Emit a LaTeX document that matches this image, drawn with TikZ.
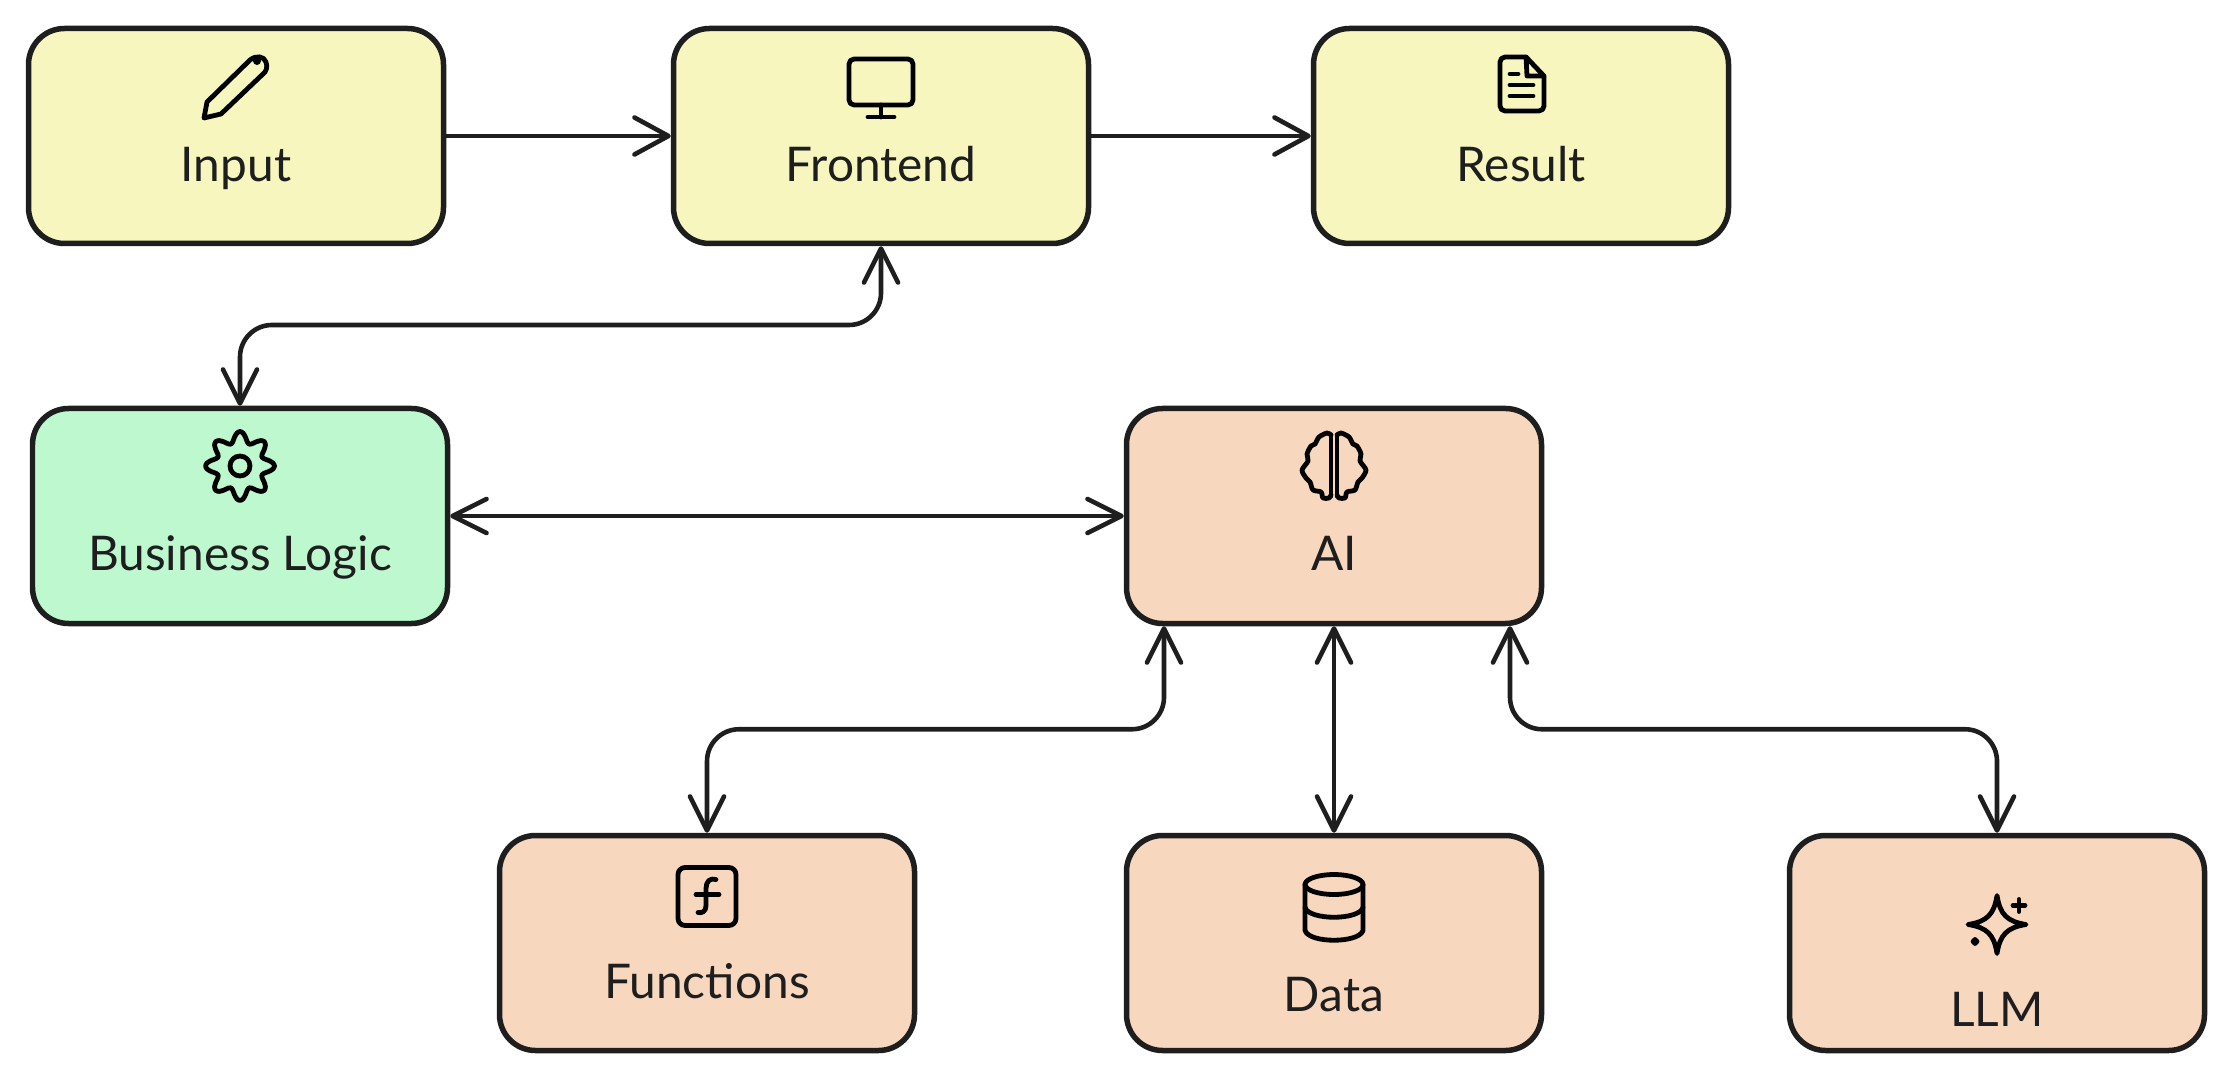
\documentclass[tikz,border=0pt]{standalone}
\usepackage{fontspec}
\setmainfont{Lato}
\usetikzlibrary{arrows.meta}
\usetikzlibrary{positioning}
\usetikzlibrary{calc}

\definecolor{LineInk}{HTML}{1E1E1E}
\definecolor{YellowFill}{HTML}{F6F6BE}
\definecolor{GreenFill}{HTML}{BEF8CF}
\definecolor{OrangeFill}{HTML}{F8D7BF}

\tikzset{
	box/.style = {draw=LineInk, line width=0.055cm, rounded corners=0.36cm, minimum width=4.15cm, minimum height=2.15cm},
	boxlabel/.style = {text=LineInk, anchor=base, inner sep=0pt, font=\fontsize{13.6pt}{16pt}\selectfont},
	link/.style = {draw=LineInk, line width=0.046cm, line cap=round},
	bothways/.style = {link, {Straight Barb[length=0.34cm,width=0.34cm,round]}-{Straight Barb[length=0.34cm,width=0.34cm,round]}},
	oneway/.style = {link, -{Straight Barb[length=0.34cm,width=0.37cm,round]}},
	routed/.style = {bothways, rounded corners=0.32cm},
	icon/.style = {scale=0.01, line width=0.048cm, line cap=round, line join=round},
	pics/pencilicon/.style = {code = {
		\draw[icon] (-32,-30) -- (-29,-14) -- (14,28) .. controls (20,33) and (28,32) .. (30,26) .. controls (32,21) and (30,16) .. (27,14) -- (-15,-26) -- cycle;
		\fill[icon] (21,27) circle (4);
	}},
	pics/monitoricon/.style = {code = {
		\draw[icon, rounded corners=0.05cm] (-32,-17) rectangle (32,29);
		\draw[icon] (0,-17) -- (0,-29);
		\draw[icon] (-13,-29) -- (13,-29);
	}},
	pics/documenticon/.style = {code = {
		\draw[icon, rounded corners=0.05cm] (4,27) -- (-22,27) -- (-22,-27) -- (22,-27) -- (22,8);
		\draw[icon] (4,27) -- (22,8) -- (5,8) -- cycle;
		\draw[icon] (-12,10) -- (-4,10);
		\draw[icon] (-12,-1) -- (11,-1);
		\draw[icon] (-12,-12) -- (11,-12);
	}},
	pics/gearicon/.style = {code = {
		\draw[icon] plot[smooth cycle, samples=64, domain=0:354.375] (\x:{29+5.5*cos(8*\x)});
		\draw[icon] (0,0) circle (10);
	}},
	pics/brainlobe/.style = {code = {
		\draw[icon] (3,-30) -- (3,31);
		\draw[icon] plot[smooth] coordinates {(3,31) (7,33) (15,29) (19,22) (23,20) (27,12) (26,5) (32,-4) (28,-12) (24,-16) (21,-24) (13,-26) (11,-32) (5,-32) (3,-29)};
	}},
	pics/brainicon/.style = {code = {
		\pic {brainlobe};
		\pic[xscale=-1] {brainlobe};
	}},
	pics/functionicon/.style = {code = {
		\draw[icon, rounded corners=0.07cm] (-29,-29) rectangle (29,29);
		\draw[icon] (9,17) .. controls (3,19) and (-1,15) .. (-1,8) -- (-1,-9) .. controls (-1,-15) and (-5,-17) .. (-9,-16);
		\draw[icon] (-11,2) -- (12,2);
	}},
	pics/cylindericon/.style = {code = {
		\draw[icon] (0,23) ellipse (29 and 10);
		\draw[icon] (-29,23) -- (-29,-23) .. controls (-25,-36) and (25,-36) .. (29,-23) -- (29,23);
		\draw[icon] (-29,0) .. controls (-25,-13) and (25,-13) .. (29,0);
	}},
	pics/sparkleicon/.style = {code = {
		\draw[icon] (0,29) .. controls (3,10) and (10,3) .. (29,0) .. controls (10,-3) and (3,-10) .. (0,-29) .. controls (-3,-10) and (-10,-3) .. (-29,0) .. controls (-10,3) and (-3,10) .. (0,29) -- cycle;
		\draw[icon] (16,19) -- (28,19);
		\draw[icon] (22,13) -- (22,25);
		\draw[icon, fill=black] (-24,-17) -- (-22,-15) -- (-20,-17) -- (-22,-19) -- cycle;
	}},
}

\begin{document}
\begin{tikzpicture}
	\useasboundingbox (0.00cm,0.00cm) rectangle (22.35cm,10.82cm);

	% ---------------------
	% Boxes
	\node[box, fill=YellowFill] (Input)    at (2.36cm,9.46cm) {};
	\node[box, fill=YellowFill] (Frontend) at (8.81cm,9.46cm) {};
	\node[box, fill=YellowFill] (Result)   at (15.21cm,9.46cm) {};

	\node[box, fill=GreenFill]  (Business) at (2.40cm,5.66cm) {};
	\node[box, fill=OrangeFill] (AI)       at (13.34cm,5.66cm) {};

	\node[box, fill=OrangeFill] (Functions) at (7.07cm,1.39cm) {};
	\node[box, fill=OrangeFill] (Data)      at (13.34cm,1.39cm) {};
	\node[box, fill=OrangeFill] (LLM)       at (19.97cm,1.39cm) {};

	% ---------------------
	% Labels
	\node[boxlabel] (InputLabel)     at ([yshift=-0.46cm]Input.center) {Input};
	\node[boxlabel] (FrontendLabel)  at ([yshift=-0.46cm]Frontend.center) {Frontend};
	\node[boxlabel] (ResultLabel)    at ([yshift=-0.46cm]Result.center) {Result};
	\node[boxlabel] (BusinessLabel)  at ([yshift=-0.54cm]Business.center) {Business Logic};
	\node[boxlabel] (AILabel)        at ([yshift=-0.54cm]AI.center) {AI};
	\node[boxlabel] (FunctionsLabel) at ([yshift=-0.555cm]Functions.center) {Functions};
	\node[boxlabel] (DataLabel)      at ([yshift=-0.685cm]Data.center) {Data};
	\node[boxlabel] (LLMLabel)       at ([yshift=-0.835cm]LLM.center) {LLM};

	% ---------------------
	% Icons
	\path (Input)     +(0.00cm,0.48cm)  pic {pencilicon};
	\path (Frontend)  +(0.00cm,0.48cm)  pic {monitoricon};
	\path (Result)    +(0.01cm,0.52cm)  pic {documenticon};
	\path (Business)  +(0.00cm,0.50cm)  pic {gearicon};
	\path (AI)        +(0.00cm,0.50cm)  pic {brainicon};
	\path (Functions) +(0.00cm,0.465cm) pic {functionicon};
	\path (Data)      +(0.00cm,0.355cm) pic {cylindericon};
	\path (LLM)       +(0.00cm,0.185cm) pic {sparkleicon};

	% ---------------------
	% Routing points
	\coordinate (FrontendBend) at (5.00cm,7.57cm);
	\path (AI.south) +(-1.70cm,0.00cm) coordinate (AILeft);
	\path (AI.south) +(1.76cm,0.00cm)  coordinate (AIRight);
	\path (AILeft)  +(0.00cm,-1.03cm) coordinate (AILeftBend);
	\path (AIRight) +(0.00cm,-1.03cm) coordinate (AIRightBend);

	% ---------------------
	% Connectors
	\draw[oneway] (Input) -- (Frontend);
	\draw[oneway] (Frontend) -- (Result);
	\draw[routed] (Frontend.south) |- (FrontendBend) -| (Business.north);
	\draw[bothways] (Business) -- (AI);
	\draw[routed] (AILeft) -- (AILeftBend) -| (Functions.north);
	\draw[bothways] (AI) -- (Data);
	\draw[routed] (AIRight) -- (AIRightBend) -| (LLM.north);

\end{tikzpicture}
\end{document}
